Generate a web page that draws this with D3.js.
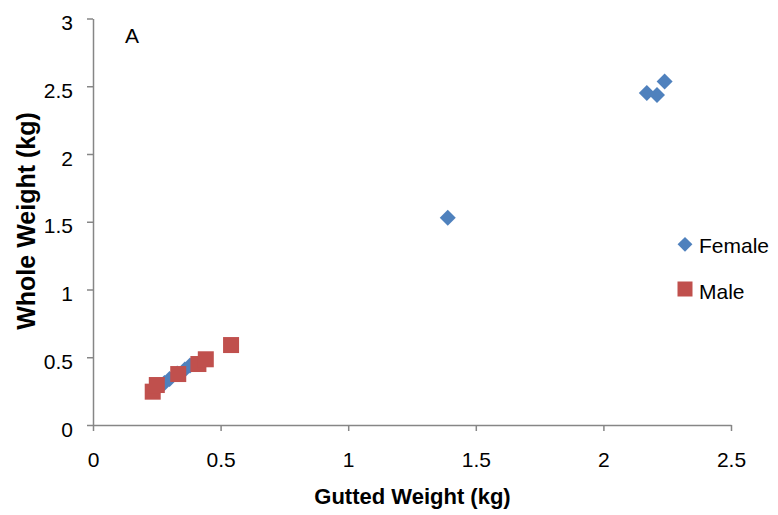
<!DOCTYPE html>
<html>
<head>
<meta charset="utf-8">
<script src="https://cdn.jsdelivr.net/npm/d3@7"></script>
<style>
  html, body { margin: 0; padding: 0; background: #fff; }
  svg { display: block; font-family: "Liberation Sans", Arial, sans-serif; }
</style>
</head>
<body>
<svg id="chart" width="778" height="515"></svg>
<script>
// ---- data ----
const femaleGutted = [0.28, 0.30, 0.33, 0.36, 0.38, 1.39, 2.17, 2.21, 2.24];
const femaleWhole  = [0.31, 0.34, 0.38, 0.41, 0.44, 1.53, 2.45, 2.435, 2.535];
const maleGutted   = [0.234, 0.25, 0.334, 0.413, 0.442, 0.541];
const maleWhole    = [0.246, 0.295, 0.376, 0.45, 0.485, 0.59];
const xTicks = [0, 0.5, 1, 1.5, 2, 2.5];
const yTicks = [0, 0.5, 1, 1.5, 2, 2.5, 3];
const seriesNames = ["Female", "Male"];

const svg = d3.select("#chart");
const x = d3.scaleLinear().domain([0, 2.5]).range([93, 731]);
const y = d3.scaleLinear().domain([0, 3]).range([425, 18.5]);
const axisColor = "#868686";
const blue = "#4F81BD", red = "#C0504D";

// x axis
const gx = svg.append("g").attr("transform", `translate(0,${y(0)})`)
  .call(d3.axisBottom(x).tickValues(xTicks).tickSize(6).tickSizeOuter(0)
        .tickFormat(d => String(d)));
// y axis
const gy = svg.append("g").attr("transform", `translate(${x(0)},0)`)
  .call(d3.axisLeft(y).tickValues(yTicks).tickSize(6).tickSizeOuter(0)
        .tickFormat(d => String(d)));

[gx, gy].forEach(g => {
  g.select(".domain").attr("stroke", axisColor).attr("stroke-width", 1.5);
  g.selectAll(".tick line").attr("stroke", axisColor).attr("stroke-width", 1.5);
  g.selectAll(".tick text").attr("fill", "#000")
    .style("font-size", "21px").style("font-family", "'Liberation Sans', Arial, sans-serif");
});
gx.selectAll(".tick text").attr("dy", null).attr("y", 42);
gy.selectAll(".tick text").attr("dy", null).attr("x", -20).attr("y", 11);

// female diamonds
const diamond = d3.symbol().type(d3.symbolSquare).size(128);
const fem = femaleGutted.map((g, i) => [g, femaleWhole[i]]);
svg.append("g").selectAll("path").data(fem).join("path")
  .attr("d", diamond)
  .attr("transform", d => `translate(${x(d[0])},${y(d[1])}) rotate(45)`)
  .attr("fill", blue);

// male squares
const mal = maleGutted.map((g, i) => [g, maleWhole[i]]);
svg.append("g").selectAll("rect").data(mal).join("rect")
  .attr("x", d => x(d[0]) - 8).attr("y", d => y(d[1]) - 8)
  .attr("width", 16).attr("height", 16)
  .attr("fill", red);

// panel label
svg.append("text").attr("x", 125).attr("y", 43)
  .style("font-size", "21px").text("A");

// axis titles
svg.append("text").attr("x", 412.5).attr("y", 504).attr("text-anchor", "middle")
  .style("font-size", "22px").style("font-weight", "bold").text("Gutted Weight (kg)");
svg.append("text").attr("transform", "translate(35,221) rotate(-90)").attr("text-anchor", "middle")
  .style("font-size", "25px").style("font-weight", "bold").text("Whole Weight (kg)");

// legend
const legend = svg.append("g");
legend.append("path").attr("d", d3.symbol().type(d3.symbolSquare).size(110))
  .attr("transform", "translate(685,244.3) rotate(45)").attr("fill", blue);
legend.append("text").attr("x", 699).attr("y", 253).style("font-size", "21px").text(seriesNames[0]);
legend.append("rect").attr("x", 677.5).attr("y", 281.5).attr("width", 15).attr("height", 15).attr("fill", red);
legend.append("text").attr("x", 699).attr("y", 299).style("font-size", "21px").text(seriesNames[1]);
</script>
</body>
</html>
